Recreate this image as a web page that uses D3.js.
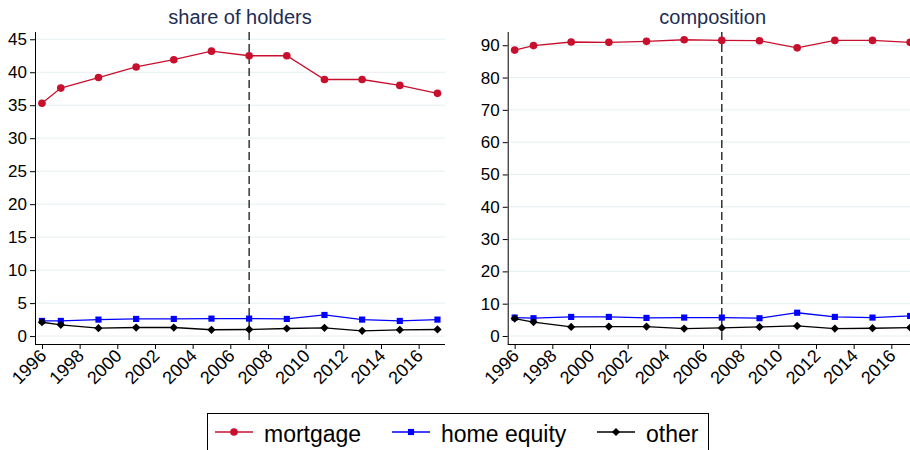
<!DOCTYPE html>
<html>
<head>
<meta charset="utf-8">
<script src="https://cdn.jsdelivr.net/npm/d3@7"></script>
<style>
  body { margin: 0; background: #fff; }
  svg { font-family: "Liberation Sans", Arial, sans-serif; display: block; }
</style>
</head>
<body>
<svg id="chart" width="910" height="450"></svg>
<script>
// data
var years = [1996, 1997, 1999, 2001, 2003, 2005, 2007, 2009, 2011, 2013, 2015, 2017]
var xTicks = [1996, 1998, 2000, 2002, 2004, 2006, 2008, 2010, 2012, 2014, 2016]
var crisisYear = 2007

var shareMortgage = [35.3, 37.6, 39.2, 40.8, 41.9, 43.2, 42.5, 42.5, 38.9, 38.9, 38.0, 36.8]
var shareHomeEquity = [2.3, 2.3, 2.5, 2.6, 2.6, 2.65, 2.65, 2.6, 3.2, 2.5, 2.3, 2.5]
var shareOther = [2.1, 1.7, 1.2, 1.3, 1.3, 0.96, 1.0, 1.15, 1.25, 0.8, 0.95, 1.0]

var compMortgage = [88.5, 89.9, 91.0, 90.9, 91.2, 91.7, 91.5, 91.4, 89.2, 91.5, 91.5, 90.9]
var compHomeEquity = [5.7, 5.5, 5.9, 5.9, 5.6, 5.7, 5.7, 5.5, 7.2, 5.9, 5.7, 6.2]
var compOther = [5.4, 4.3, 2.8, 2.9, 2.9, 2.3, 2.5, 2.8, 3.1, 2.3, 2.4, 2.6]

var shareTicks = [0, 5, 10, 15, 20, 25, 30, 35, 40, 45]
var compTicks = [0, 10, 20, 30, 40, 50, 60, 70, 80, 90]

var seriesNames = ['mortgage', 'home equity', 'other']
var seriesColors = ['#c8102e', '#0000ff', '#000000']
// diamond is a square turned 45 degrees, as in the original
var seriesSymbols = [d3.symbolCircle, d3.symbolSquare, d3.symbolSquare]
var symbolSizes = [46, 38, 34]
var symbolTurn = [0, 0, 45]

var svg = d3.select('#chart')

function marker(k) {
        return d3.symbol().type(seriesSymbols[k]).size(symbolSizes[k])
}

function panel(cfg) {
        var g = svg.append('g')
        var x = d3.scaleLinear()
                .domain([1995.63, 2017.4])
                .range([cfg.left, cfg.left + 410])
        var y = d3.scaleLinear()
                .domain(cfg.yDomain)
                .range([344, 32])

        // grid
        g.append('g')
                .selectAll('line')
                .data(cfg.yTicks)
                .enter()
                .append('line')
                .attr('x1', cfg.left)
                .attr('x2', cfg.left + 410)
                .attr('y1', function (d) { return y(d) })
                .attr('y2', function (d) { return y(d) })
                .attr('stroke', '#e6eff1')
                .attr('stroke-width', 1)

        // y axis
        var ya = g.append('g')
                .attr('transform', 'translate(' + cfg.left + ',0)')
                .call(d3.axisLeft(y).tickValues(cfg.yTicks).tickSize(5).tickPadding(3))
        ya.select('.domain').attr('d', 'M0.5,32V344.5')
        ya.selectAll('text').attr('font-size', 17).attr('fill', '#000').attr('font-family', null)

        // x axis
        var xa = g.append('g')
                .attr('transform', 'translate(0,344)')
                .call(d3.axisBottom(x).tickValues(xTicks).tickFormat(d3.format('d')).tickSize(5))
        xa.select('.domain').attr('d', 'M' + cfg.left + ',0.5H' + (cfg.left + 410))
        xa.selectAll('text')
                .attr('font-size', 18)
                .attr('fill', '#000')
                .attr('font-family', null)
                .attr('text-anchor', 'end')
                .attr('dy', null)
                .attr('transform', 'translate(5,13) rotate(-45)')
                .attr('y', 0)
                .attr('x', 0)

        // crisis line
        g.append('line')
                .attr('x1', x(crisisYear))
                .attr('x2', x(crisisYear))
                .attr('y1', 32)
                .attr('y2', 344)
                .attr('stroke', '#000')
                .attr('stroke-width', 1.2)
                .attr('stroke-dasharray', '8,4')

        var line = d3.line()
                .x(function (d, i) { return x(years[i]) })
                .y(function (d) { return y(d) })

        cfg.series.forEach(function (vals, k) {
                g.append('path')
                        .datum(vals)
                        .attr('d', line)
                        .attr('fill', 'none')
                        .attr('stroke', seriesColors[k])
                        .attr('stroke-width', 1.3)
                g.append('g')
                        .selectAll('path')
                        .data(vals)
                        .enter()
                        .append('path')
                        .attr('d', marker(k))
                        .attr('transform', function (d, i) {
                                return 'translate(' + x(years[i]) + ',' + y(d) + ') rotate(' + symbolTurn[k] + ')'
                        })
                        .attr('fill', seriesColors[k])
        })

        g.append('text')
                .attr('x', cfg.left + 205)
                .attr('y', 24)
                .attr('text-anchor', 'middle')
                .attr('font-size', 20)
                .attr('fill', '#1e2d53')
                .text(cfg.title)
}

panel({
        left: 35,
        title: 'share of holders',
        yDomain: [-1.2, 46.1],
        yTicks: shareTicks,
        series: [shareMortgage, shareHomeEquity, shareOther]
})

panel({
        left: 507.7,
        title: 'composition',
        yDomain: [-2.48, 94.1],
        yTicks: compTicks,
        series: [compMortgage, compHomeEquity, compOther]
})

// legend
var legend = svg.append('g')
legend.append('rect')
        .attr('x', 207.5)
        .attr('y', 413.5)
        .attr('width', 501)
        .attr('height', 50)
        .attr('fill', '#fff')
        .attr('stroke', '#000')
        .attr('stroke-width', 1)

var legendX = [215, 392, 597]
seriesNames.forEach(function (name, k) {
        var item = legend.append('g').attr('transform', 'translate(' + legendX[k] + ',432)')
        item.append('line')
                .attr('x1', 0)
                .attr('x2', 38)
                .attr('stroke', seriesColors[k])
                .attr('stroke-width', 1.3)
        item.append('path')
                .attr('d', marker(k))
                .attr('transform', 'translate(19,0) rotate(' + symbolTurn[k] + ')')
                .attr('fill', seriesColors[k])
        item.append('text')
                .attr('x', 49)
                .attr('y', 10)
                .attr('font-size', 23)
                .attr('fill', '#000')
                .text(name)
})
</script>
</body>
</html>
